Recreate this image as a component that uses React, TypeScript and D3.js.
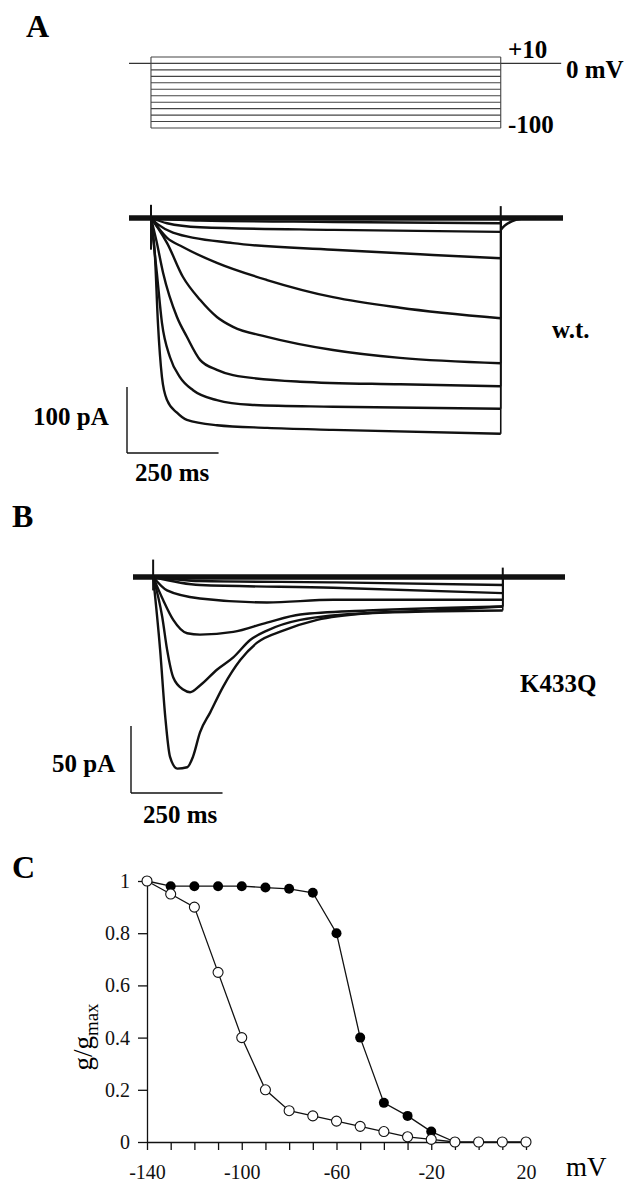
import React, { useEffect, useRef } from 'react';
import * as d3 from 'd3';

// ---- panel A: voltage protocol (mV), holding at 0 mV
const stepVoltages = [10, 0, -10, -20, -30, -40, -50, -60, -70, -80, -90, -100];
const stepEnd = 955; // ms

// ---- panel A: w.t. currents, [time ms, current pA]
const wtM30 = [[0, 0], [134, -4], [500, -6], [955, -8]];
const wtM40 = [[0, 0], [44, -8], [134, -14], [500, -18], [955, -21]];
const wtM50 = [[0, 0], [20, -10], [60, -22], [224, -38], [497, -48], [770, -56], [955, -61]];
const wtM60 = [[0, 0], [44, -30], [87, -44], [180, -68], [317, -94], [497, -120], [680, -136], [955, -152]];
const wtM70 = [[0, 0], [20, -16], [44, -38], [87, -89], [134, -124], [180, -150], [224, -165], [317, -180], [497, -200], [680, -212], [955, -220]];
const wtM80 = [[0, 0], [15, -35], [33, -83], [71, -150], [98, -180], [134, -215], [180, -230], [224, -238], [407, -248], [680, -252], [955, -255]];
const wtM90 = [[0, 0], [16, -83], [30, -159], [52, -211], [79, -241], [115, -261], [180, -276], [270, -283], [497, -286], [955, -289]];
const wtM100 = [[0, 0], [11, -59], [19, -159], [30, -241], [44, -276], [71, -295], [98, -306], [180, -314], [317, -318], [497, -321], [955, -327]];
const wtTraces = [wtM30, wtM40, wtM50, wtM60, wtM70, wtM80, wtM90, wtM100];
const wtTail = [[955, -18], [965, -12], [985, -5], [1015, -1], [1050, 0]];
const wtSpikeOn = [20, -48];
const wtSpikeOff = [18, 0];

// ---- panel B: K433Q currents, [time ms, current pA]
const kqM50 = [[0, 0], [128, -3], [500, -4], [955, -6]];
const kqM60 = [[0, 0], [128, -6], [492, -8], [955, -12]];
const kqM70 = [[0, 0], [38, -10], [128, -16], [311, -19], [492, -17], [955, -17]];
const kqM80 = [[0, 0], [27, -17], [55, -32], [93, -42], [128, -43], [219, -41], [311, -34], [402, -28], [585, -25], [955, -22]];
const kqM90 = [[0, 0], [25, -30], [38, -54], [55, -75], [82, -84], [101, -86], [128, -81], [175, -69], [219, -60], [265, -47], [311, -40], [402, -32], [585, -27], [955, -25]];
const kqM100 = [[0, 0], [19, -54], [33, -104], [46, -134], [66, -143], [93, -142], [109, -134], [128, -116], [156, -101], [191, -82], [238, -62], [284, -49], [355, -40], [448, -32], [585, -27], [765, -25], [955, -22]];
const kqTraces = [kqM50, kqM60, kqM70, kqM80, kqM90, kqM100];
const kqSpikeOn = [13, -10];
const kqSpikeOff = [7, 0];

// ---- panel C: g/gmax vs mV
const cVoltages = [-140, -130, -120, -110, -100, -90, -80, -70, -60, -50, -40, -30, -20, -10, 0, 10, 20];
const wtG = [1, 0.98, 0.98, 0.98, 0.98, 0.975, 0.97, 0.955, 0.8, 0.4, 0.15, 0.1, 0.04, 0];
const kqG = [1, 0.95, 0.9, 0.65, 0.4, 0.2, 0.12, 0.1, 0.08, 0.06, 0.04, 0.02, 0.01, 0, 0, 0, 0];
const xTickLabels = [-140, -100, -60, -20, 20];
const yTicks = [0, 0.2, 0.4, 0.6, 0.8, 1];

const serif = '"Liberation Serif", "Times New Roman", serif';

const App = () => {
  const xAxisRef = useRef<SVGGElement>(null);
  const yAxisRef = useRef<SVGGElement>(null);

  // scales
  const tA = d3.scaleLinear().domain([-60, 1125]).range([129, 563]);
  const iA = d3.scaleLinear().domain([0, -100]).range([218, 284]);
  const vA = d3.scaleLinear().domain([10, -100]).range([57, 128]);
  const tB = d3.scaleLinear().domain([-55, 1125]).range([133, 565]);
  const iB = d3.scaleLinear().domain([0, -50]).range([577, 644]);
  const xC = d3.scaleLinear().domain([-140, 20]).range([147, 526]);
  const yC = d3.scaleLinear().domain([0, 1]).range([1142, 881]);

  const lineA = d3.line<number[]>().x(d => tA(d[0])).y(d => iA(d[1])).curve(d3.curveMonotoneX);
  const lineB = d3.line<number[]>().x(d => tB(d[0])).y(d => iB(d[1])).curve(d3.curveMonotoneX);
  const lineC = d3.line<number>().x((d, i) => xC(cVoltages[i])).y(d => yC(d));

  useEffect(() => {
    const xAxis = d3.axisBottom(xC)
      .tickValues(d3.range(-140, 21, 10))
      .tickSize(8).tickSizeOuter(0).tickPadding(15)
      .tickFormat(d => (xTickLabels.includes(+d) ? String(d) : ''));
    const yAxis = d3.axisLeft(yC)
      .tickValues(yTicks).tickSize(9).tickSizeOuter(0).tickPadding(8)
      .tickFormat(d => String(+(+d).toFixed(1)));
    const gx = d3.select(xAxisRef.current).call(xAxis);
    const gy = d3.select(yAxisRef.current).call(yAxis);
    [gx, gy].forEach(g => {
      g.attr('font-family', serif).attr('font-size', 20);
      g.selectAll('path, line').attr('stroke', '#111').attr('stroke-width', 1.3);
      g.selectAll('text').attr('fill', '#111');
    });
  }, []);

  const bold = { fontFamily: serif, fontWeight: 700, fontSize: 25, fill: '#000' } as const;
  const panel = { fontFamily: serif, fontWeight: 700, fontSize: 32, fill: '#000' } as const;
  const trace = { fill: 'none', stroke: '#111', strokeWidth: 2.4 } as const;

  return (
    <div style={{ position: 'absolute', left: 0, top: 0 }}>
      <svg width={629} height={1183} style={{ display: 'block', background: '#fff' }}>
        {/* ---------- A: protocol ---------- */}
        <text x={26} y={37} style={panel}>A</text>
        <line x1={tA(-60)} x2={tA(1120)} y1={vA(0)} y2={vA(0)} stroke="#333" strokeWidth={1.2} />
        {stepVoltages.map(v => (
          <line key={v} x1={tA(0)} x2={tA(stepEnd)} y1={vA(v)} y2={vA(v)} stroke="#444" strokeWidth={1.1} />
        ))}
        <line x1={tA(0)} x2={tA(0)} y1={vA(10)} y2={vA(-100)} stroke="#444" strokeWidth={1.1} />
        <line x1={tA(stepEnd)} x2={tA(stepEnd)} y1={vA(10)} y2={vA(-100)} stroke="#444" strokeWidth={1.1} />
        <text x={508} y={58} style={bold}>+10</text>
        <text x={566} y={78} style={bold}>0 mV</text>
        <text x={508} y={133} style={bold}>-100</text>

        {/* ---------- A: w.t. currents ---------- */}
        <line x1={tA(-60)} x2={tA(1125)} y1={iA(0)} y2={iA(0)} stroke="#111" strokeWidth={5.5} />
        {wtTraces.map((d, i) => (
          <g key={i}>
            <path d={lineA(d) || ''} style={trace} />
            <line x1={tA(stepEnd)} x2={tA(stepEnd)} y1={iA(d[d.length - 1][1])} y2={iA(0)} stroke="#111" strokeWidth={1.6} />
          </g>
        ))}
        <path d={lineA(wtTail) || ''} style={trace} />
        <line x1={tA(0)} x2={tA(0)} y1={iA(wtSpikeOn[0])} y2={iA(wtSpikeOn[1])} stroke="#111" strokeWidth={2} />
        <line x1={tA(stepEnd)} x2={tA(stepEnd)} y1={iA(wtSpikeOff[0])} y2={iA(wtSpikeOff[1])} stroke="#111" strokeWidth={2} />
        <text x={552} y={338} style={bold}>w.t.</text>
        <line x1={127} x2={127} y1={453 - (iA(-100) - iA(0))} y2={453} stroke="#111" strokeWidth={1.4} />
        <line x1={127} x2={127 + tA(250) - tA(0)} y1={453} y2={453} stroke="#111" strokeWidth={1.4} />
        <text x={33} y={425} style={bold}>100 pA</text>
        <text x={135} y={481} style={bold}>250 ms</text>

        {/* ---------- B: K433Q currents ---------- */}
        <text x={12} y={527} style={panel}>B</text>
        <line x1={tB(-55)} x2={tB(1125)} y1={iB(0)} y2={iB(0)} stroke="#111" strokeWidth={5.5} />
        {kqTraces.map((d, i) => (
          <g key={i}>
            <path d={lineB(d) || ''} style={trace} />
            <line x1={tB(stepEnd)} x2={tB(stepEnd)} y1={iB(d[d.length - 1][1])} y2={iB(0)} stroke="#111" strokeWidth={1.6} />
          </g>
        ))}
        <line x1={tB(0)} x2={tB(0)} y1={iB(kqSpikeOn[0])} y2={iB(kqSpikeOn[1])} stroke="#111" strokeWidth={2} />
        <line x1={tB(stepEnd)} x2={tB(stepEnd)} y1={iB(kqSpikeOff[0])} y2={iB(kqSpikeOff[1])} stroke="#111" strokeWidth={2} />
        <text x={520} y={692} style={bold}>K433Q</text>
        <line x1={131} x2={131} y1={793 - (iB(-50) - iB(0))} y2={793} stroke="#111" strokeWidth={1.4} />
        <line x1={131} x2={131 + tB(250) - tB(0)} y1={793} y2={793} stroke="#111" strokeWidth={1.4} />
        <text x={52} y={772} style={bold}>50 pA</text>
        <text x={143} y={823} style={bold}>250 ms</text>

        {/* ---------- C: g/gmax ---------- */}
        <text x={12} y={878} style={panel}>C</text>
        <g ref={xAxisRef} transform={`translate(0,${yC(0)})`} />
        <g ref={yAxisRef} transform={`translate(${xC(-140)},0)`} />
        <path d={lineC(wtG) || ''} fill="none" stroke="#111" strokeWidth={1.3} />
        <path d={lineC(kqG) || ''} fill="none" stroke="#111" strokeWidth={1.3} />
        {wtG.map((g, i) => (
          <circle key={'w' + i} cx={xC(cVoltages[i])} cy={yC(g)} r={5} fill="#000" />
        ))}
        {kqG.map((g, i) => (
          <circle key={'k' + i} cx={xC(cVoltages[i])} cy={yC(g)} r={5} fill="#fff" stroke="#111" strokeWidth={1.1} />
        ))}
        <text transform="translate(92,1037) rotate(-90)" textAnchor="middle"
          style={{ fontFamily: serif, fontSize: 27, fill: '#000' }}>
          g/g<tspan fontSize={19} dy={6}>max</tspan>
        </text>
        <text x={566} y={1176} style={{ fontFamily: serif, fontSize: 27, fill: '#000' }}>mV</text>
      </svg>
    </div>
  );
};

export default App;
